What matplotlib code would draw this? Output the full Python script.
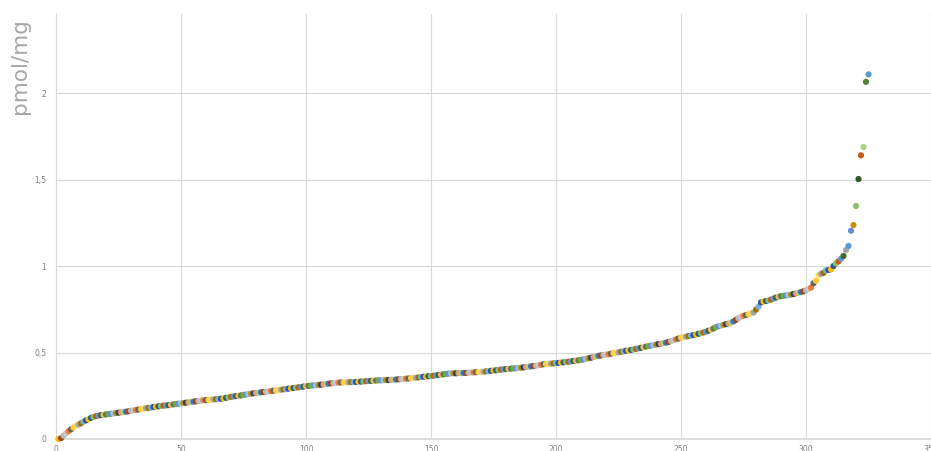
import matplotlib
matplotlib.use("Agg")
import matplotlib.pyplot as plt

# ---- data ----
sample_index = list(range(1, 326))
values = [
    0.000, 0.005, 0.020, 0.033, 0.045, 0.056, 0.066, 0.075, 0.083, 0.091,
    0.100, 0.108, 0.115, 0.122, 0.128, 0.132, 0.135, 0.138, 0.140, 0.142,
    0.144, 0.146, 0.148, 0.150, 0.152, 0.154, 0.156, 0.158, 0.160, 0.163,
    0.166, 0.168, 0.170, 0.173, 0.176, 0.178, 0.180, 0.182, 0.185, 0.187,
    0.189, 0.191, 0.193, 0.194, 0.196, 0.198, 0.200, 0.202, 0.204, 0.206,
    0.208, 0.210, 0.212, 0.214, 0.216, 0.218, 0.220, 0.222, 0.224, 0.225,
    0.226, 0.227, 0.229, 0.230, 0.231, 0.233, 0.235, 0.238, 0.241, 0.244,
    0.246, 0.248, 0.250, 0.252, 0.255, 0.257, 0.260, 0.262, 0.264, 0.266,
    0.268, 0.270, 0.272, 0.274, 0.275, 0.277, 0.279, 0.281, 0.283, 0.285,
    0.287, 0.289, 0.291, 0.293, 0.295, 0.297, 0.299, 0.301, 0.303, 0.306,
    0.307, 0.309, 0.310, 0.311, 0.313, 0.314, 0.316, 0.318, 0.320, 0.322,
    0.323, 0.325, 0.326, 0.327, 0.327, 0.328, 0.328, 0.329, 0.329, 0.330,
    0.331, 0.332, 0.333, 0.334, 0.335, 0.336, 0.337, 0.338, 0.339, 0.339,
    0.340, 0.341, 0.341, 0.342, 0.343, 0.344, 0.345, 0.346, 0.347, 0.349,
    0.350, 0.352, 0.353, 0.354, 0.356, 0.358, 0.360, 0.361, 0.363, 0.364,
    0.366, 0.368, 0.370, 0.372, 0.374, 0.376, 0.378, 0.379, 0.380, 0.380,
    0.381, 0.381, 0.382, 0.382, 0.383, 0.384, 0.385, 0.386, 0.387, 0.388,
    0.389, 0.391, 0.392, 0.394, 0.396, 0.397, 0.399, 0.401, 0.403, 0.404,
    0.405, 0.407, 0.408, 0.409, 0.411, 0.412, 0.414, 0.416, 0.418, 0.420,
    0.422, 0.424, 0.427, 0.429, 0.432, 0.433, 0.435, 0.436, 0.437, 0.439,
    0.440, 0.442, 0.443, 0.445, 0.447, 0.449, 0.451, 0.453, 0.455, 0.457,
    0.460, 0.463, 0.467, 0.470, 0.474, 0.478, 0.481, 0.483, 0.486, 0.488,
    0.490, 0.493, 0.496, 0.499, 0.501, 0.504, 0.507, 0.510, 0.512, 0.515,
    0.518, 0.521, 0.524, 0.527, 0.531, 0.534, 0.537, 0.540, 0.543, 0.546,
    0.549, 0.551, 0.554, 0.557, 0.561, 0.566, 0.571, 0.576, 0.581, 0.586,
    0.589, 0.592, 0.595, 0.598, 0.601, 0.605, 0.608, 0.612, 0.616, 0.620,
    0.626, 0.632, 0.639, 0.647, 0.652, 0.656, 0.660, 0.664, 0.668, 0.672,
    0.680, 0.689, 0.698, 0.707, 0.712, 0.717, 0.722, 0.727, 0.731, 0.748,
    0.765, 0.790, 0.795, 0.798, 0.801, 0.806, 0.812, 0.818, 0.823, 0.826,
    0.828, 0.830, 0.832, 0.835, 0.838, 0.842, 0.846, 0.850, 0.854, 0.860,
    0.867, 0.875, 0.900, 0.915, 0.948, 0.955, 0.960, 0.975, 0.977, 0.980,
    1.000, 1.015, 1.027, 1.042, 1.058, 1.092, 1.116, 1.204, 1.237, 1.347,
    1.503, 1.640, 1.688, 2.065, 2.108,
]
x_ticks = [0, 50, 100, 150, 200, 250, 300, 350]
x_tick_labels = ["0", "50", "100", "150", "200", "250", "300", "350"]
y_ticks = [0, 0.5, 1, 1.5, 2]
y_tick_labels = ["0", "0,5", "1", "1,5", "2"]
y_title = "pmol/mg"

# ---- style ----
palette = ['#4472C4', '#ED7D31', '#A5A5A5', '#FFC000', '#5B9BD5', '#70AD47',
           '#264478', '#9E480E', '#636363', '#997300', '#255E91', '#43682B',
           '#698ED0', '#F1975A', '#B7B7B7', '#FFCD33', '#7CAFDD', '#8CC168',
           '#F4B183', '#9DC3E6', '#A9D18E', '#C9C9C9', '#FFD966', '#2F5597',
           '#C55A11', '#548235', '#BF9000']
colors = [palette[(i * 7) % len(palette)] for i in range(len(values))]
tail_colors = ['#A5A5A5', '#5B9BD5', '#698ED0', '#BF9000', '#8CC168',
               '#375623', '#C55A11', '#A9D18E', '#548235', '#5B9BD5']
colors[-len(tail_colors):] = tail_colors
colors[0] = '#FFC000'

W, H = 931, 451
fig = plt.figure(figsize=(W / 100, H / 100), dpi=100)
fig.patch.set_facecolor('white')
ax = fig.add_axes([56 / W, 12 / H, 875 / W, 425 / H])

ax.scatter(sample_index, values, s=20, c=colors, linewidths=0, zorder=3, clip_on=False)

ax.set_xlim(0, 350)
ax.set_ylim(0, 2.457)
ax.set_xticks(x_ticks)
ax.set_xticklabels(x_tick_labels)
ax.set_yticks(y_ticks)
ax.set_yticklabels(y_tick_labels)
ax.tick_params(axis='both', length=0, labelsize=5.5, labelcolor='#7f7f7f')
ax.tick_params(axis='y', pad=7)
ax.tick_params(axis='x', pad=4)

ax.grid(True, color='#D9D9D9', linewidth=0.8, zorder=0)
ax.set_axisbelow(True)
for s in ['top', 'right']:
    ax.spines[s].set_visible(False)
ax.spines['left'].set_color('#D9D9D9')
ax.spines['left'].set_linewidth(0.8)
ax.spines['bottom'].set_color('#D9D9D9')
ax.spines['bottom'].set_linewidth(1.3)

fig.text(20 / W, 1 - 66 / H, y_title, rotation=90, ha='center', va='center',
         fontsize=15.5, color='#A6A6A6')

fig.savefig('out.png', dpi=100, facecolor='white')
